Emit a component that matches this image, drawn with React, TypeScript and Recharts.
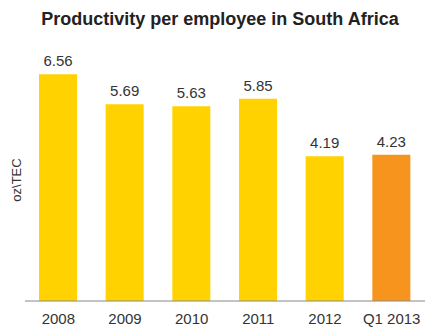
import { BarChart, Bar, XAxis, YAxis, Cell, LabelList } from "recharts"

const categories = ["2008", "2009", "2010", "2011", "2012", "Q1 2013"]
const values = [6.56, 5.69, 5.63, 5.85, 4.19, 4.23]

const data = categories.map((name, i) => ({ name, value: values[i] }))

const YELLOW = "#FFD200"
const ORANGE = "#F7941D"

export default function App() {
  return (
    <div
      style={{
        position: "absolute",
        left: 0,
        top: 0,
        width: 427,
        height: 327,
        background: "#fff",
        fontFamily: "'Liberation Sans', Arial, sans-serif",
      }}
    >
      <div
        style={{
          position: "absolute",
          left: 0,
          top: 9,
          width: 440,
          textAlign: "center",
          fontSize: 18,
          fontWeight: "bold",
          color: "#222",
        }}
      >
        Productivity per employee in South Africa
      </div>

      <BarChart
        width={427}
        height={327}
        data={data}
        margin={{ top: 59, right: 2, left: 0, bottom: 0 }}
      >
        <YAxis
          domain={[0, 7]}
          width={25}
          tick={false}
          axisLine={false}
          tickLine={false}
          label={{
            value: "oz\\TEC",
            angle: -90,
            position: "center",
            dx: 4,
            style: { fontSize: 13, fill: "#333" },
          }}
        />
        <XAxis
          dataKey="name"
          height={26}
          axisLine={{ stroke: "#888" }}
          tickLine={false}
          tickMargin={6}
          tick={{ fontSize: 15, fill: "#333" }}
        />
        <Bar dataKey="value" barSize={38} isAnimationActive={false}>
          {data.map((entry, index) => (
            <Cell key={entry.name} fill={index === data.length - 1 ? ORANGE : YELLOW} />
          ))}
          <LabelList
            dataKey="value"
            position="top"
            offset={8}
            formatter={(v: any) => Number(v).toFixed(2)}
            style={{ fontSize: 15, fill: "#333" }}
          />
        </Bar>
      </BarChart>
    </div>
  )
}
